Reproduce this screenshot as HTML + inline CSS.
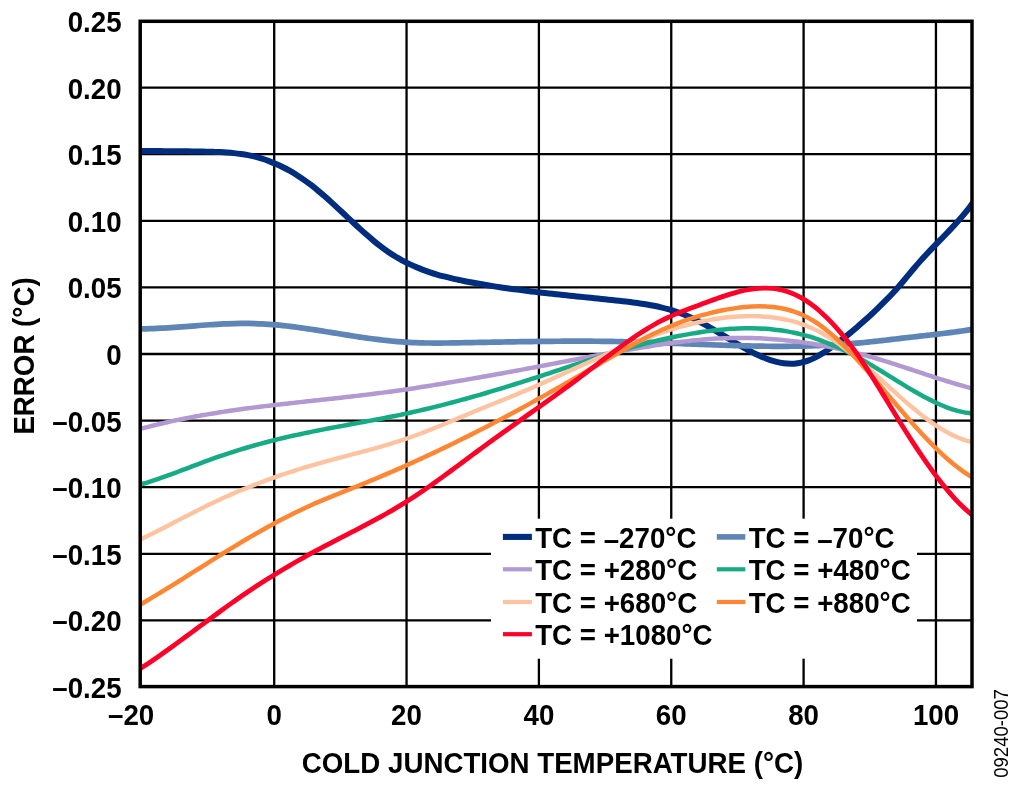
<!DOCTYPE html>
<html lang="en"><head><meta charset="utf-8"><title>Error vs Cold Junction Temperature</title>
<style>html,body{margin:0;padding:0;background:#fff;overflow:hidden}body{width:1024px;height:788px;position:relative}</style></head>
<body>
<svg width="1024" height="788" viewBox="0 0 1024 788" style="position:absolute;left:0;top:0;display:block">
<rect width="1024" height="788" fill="#fff"/>
<path d="M274.20,21.3V686.6M406.55,21.3V686.6M538.90,21.3V686.6M671.25,21.3V686.6M803.60,21.3V686.6M935.95,21.3V686.6M140.2,87.60H972.0M140.2,154.20H972.0M140.2,220.80H972.0M140.2,287.40H972.0M140.2,354.00H972.0M140.2,420.60H972.0M140.2,487.20H972.0M140.2,553.80H972.0M140.2,620.40H972.0" stroke="#000" stroke-width="2.3" fill="none"/>
<clipPath id="cp"><rect x="140.2" y="21.3" width="831.8" height="665.3000000000001"/></clipPath>
<g clip-path="url(#cp)" fill="none" stroke-linejoin="round">
<path d="M136.00,150.83C137.17,150.85 140.67,150.91 143.00,150.94C145.33,150.97 147.67,151.00 150.00,151.02C152.33,151.05 154.67,151.07 157.00,151.09C159.33,151.11 161.67,151.12 164.00,151.14C166.33,151.16 168.67,151.17 171.00,151.19C173.33,151.21 175.67,151.23 178.00,151.25C180.33,151.27 182.67,151.29 185.00,151.32C187.33,151.34 189.67,151.37 192.00,151.40C194.33,151.43 196.67,151.48 199.00,151.52C201.33,151.56 203.67,151.60 206.00,151.66C208.33,151.72 210.67,151.78 213.00,151.86C215.33,151.94 217.67,152.01 220.00,152.12C222.33,152.23 224.67,152.35 227.00,152.52C229.33,152.69 231.67,152.88 234.00,153.12C236.33,153.36 238.67,153.64 241.00,153.98C243.33,154.32 245.67,154.69 248.00,155.15C250.33,155.61 252.67,156.12 255.00,156.71C257.33,157.30 259.67,157.95 262.00,158.68C264.33,159.41 266.67,160.22 269.00,161.09C271.33,161.97 273.67,162.91 276.00,163.93C278.33,164.95 280.67,166.05 283.00,167.22C285.33,168.39 287.67,169.64 290.00,170.96C292.33,172.28 294.67,173.68 297.00,175.16C299.33,176.64 301.67,178.20 304.00,179.84C306.33,181.48 308.67,183.19 311.00,184.99C313.33,186.79 315.67,188.68 318.00,190.61C320.33,192.55 322.67,194.56 325.00,196.60C327.33,198.64 329.67,200.75 332.00,202.87C334.33,204.99 336.67,207.16 339.00,209.33C341.33,211.50 343.67,213.70 346.00,215.88C348.33,218.06 350.67,220.26 353.00,222.42C355.33,224.58 357.67,226.75 360.00,228.86C362.33,230.98 364.67,233.08 367.00,235.11C369.33,237.14 371.67,239.14 374.00,241.06C376.33,242.98 378.67,244.84 381.00,246.62C383.33,248.40 385.67,250.10 388.00,251.71C390.33,253.32 392.67,254.83 395.00,256.26C397.33,257.69 399.67,259.04 402.00,260.31C404.33,261.58 406.67,262.77 409.00,263.90C411.33,265.03 413.67,266.08 416.00,267.08C418.33,268.08 420.67,269.01 423.00,269.89C425.33,270.77 427.67,271.59 430.00,272.36C432.33,273.13 434.67,273.86 437.00,274.54C439.33,275.23 441.67,275.86 444.00,276.47C446.33,277.08 448.67,277.65 451.00,278.20C453.33,278.75 455.67,279.25 458.00,279.75C460.33,280.25 462.67,280.73 465.00,281.19C467.33,281.65 469.67,282.09 472.00,282.53C474.33,282.96 476.67,283.39 479.00,283.80C481.33,284.21 483.67,284.61 486.00,285.00C488.33,285.39 490.67,285.77 493.00,286.14C495.33,286.51 497.67,286.87 500.00,287.22C502.33,287.57 504.67,287.91 507.00,288.24C509.33,288.57 511.67,288.89 514.00,289.21C516.33,289.52 518.67,289.83 521.00,290.13C523.33,290.43 525.67,290.73 528.00,291.02C530.33,291.31 532.67,291.58 535.00,291.86C537.33,292.14 539.67,292.41 542.00,292.68C544.33,292.95 546.67,293.20 549.00,293.46C551.33,293.72 553.67,293.97 556.00,294.22C558.33,294.47 560.67,294.72 563.00,294.97C565.33,295.22 567.67,295.46 570.00,295.70C572.33,295.94 574.67,296.18 577.00,296.42C579.33,296.66 581.67,296.90 584.00,297.14C586.33,297.38 588.67,297.61 591.00,297.85C593.33,298.09 595.67,298.34 598.00,298.58C600.33,298.82 602.67,299.06 605.00,299.31C607.33,299.56 609.67,299.80 612.00,300.05C614.33,300.30 616.67,300.55 619.00,300.81C621.33,301.07 623.67,301.33 626.00,301.60C628.33,301.87 630.67,302.15 633.00,302.45C635.33,302.75 637.67,303.07 640.00,303.41C642.33,303.75 644.67,304.11 647.00,304.51C649.33,304.91 651.67,305.33 654.00,305.80C656.33,306.27 658.67,306.77 661.00,307.33C663.33,307.88 665.67,308.48 668.00,309.13C670.33,309.78 672.67,310.48 675.00,311.25C677.33,312.02 679.67,312.84 682.00,313.74C684.33,314.64 686.67,315.60 689.00,316.63C691.33,317.66 693.67,318.78 696.00,319.95C698.33,321.12 700.67,322.35 703.00,323.62C705.33,324.89 707.67,326.21 710.00,327.55C712.33,328.89 714.67,330.29 717.00,331.68C719.33,333.07 721.67,334.49 724.00,335.90C726.33,337.31 728.67,338.73 731.00,340.13C733.33,341.53 735.67,342.94 738.00,344.30C740.33,345.66 742.67,347.00 745.00,348.30C747.33,349.60 749.67,350.87 752.00,352.07C754.33,353.27 756.67,354.43 759.00,355.50C761.33,356.57 763.67,357.58 766.00,358.48C768.33,359.38 770.67,360.21 773.00,360.90C775.33,361.59 777.67,362.19 780.00,362.64C782.33,363.09 784.67,363.43 787.00,363.60C789.33,363.77 791.67,363.80 794.00,363.65C796.33,363.50 798.67,363.19 801.00,362.69C803.33,362.19 805.67,361.49 808.00,360.64C810.33,359.79 812.67,358.74 815.00,357.58C817.33,356.42 819.67,355.10 822.00,353.69C824.33,352.28 826.67,350.74 829.00,349.14C831.33,347.54 833.67,345.83 836.00,344.09C838.33,342.35 840.67,340.54 843.00,338.71C845.33,336.88 847.67,335.00 850.00,333.08C852.33,331.16 854.67,329.19 857.00,327.19C859.33,325.19 861.67,323.15 864.00,321.07C866.33,318.99 868.67,316.86 871.00,314.70C873.33,312.54 875.67,310.34 878.00,308.09C880.33,305.84 882.67,303.57 885.00,301.22C887.33,298.87 889.67,296.48 892.00,293.97C894.33,291.47 896.67,288.86 899.00,286.19C901.33,283.52 903.67,280.71 906.00,277.93C908.33,275.15 910.67,272.29 913.00,269.53C915.33,266.77 917.67,264.02 920.00,261.38C922.33,258.74 924.67,256.20 927.00,253.70C929.33,251.20 931.67,248.79 934.00,246.37C936.33,243.95 938.67,241.59 941.00,239.19C943.33,236.79 945.67,234.41 948.00,231.96C950.33,229.51 952.67,227.06 955.00,224.50C957.33,221.94 959.67,219.34 962.00,216.60C964.33,213.86 966.67,211.05 969.00,208.07C971.33,205.09 974.83,200.29 976.00,198.73" stroke="#002d7d" stroke-width="6.0"/>
<path d="M136.00,328.95C137.17,328.94 140.67,328.92 143.00,328.88C145.33,328.84 147.67,328.78 150.00,328.70C152.33,328.62 154.67,328.52 157.00,328.41C159.33,328.30 161.67,328.17 164.00,328.03C166.33,327.89 168.67,327.74 171.00,327.59C173.33,327.44 175.67,327.27 178.00,327.10C180.33,326.93 182.67,326.75 185.00,326.58C187.33,326.40 189.67,326.23 192.00,326.05C194.33,325.87 196.67,325.69 199.00,325.52C201.33,325.35 203.67,325.17 206.00,325.01C208.33,324.85 210.67,324.69 213.00,324.54C215.33,324.39 217.67,324.25 220.00,324.12C222.33,324.00 224.67,323.89 227.00,323.79C229.33,323.69 231.67,323.60 234.00,323.54C236.33,323.48 238.67,323.43 241.00,323.41C243.33,323.39 245.67,323.38 248.00,323.40C250.33,323.42 252.67,323.47 255.00,323.54C257.33,323.61 259.67,323.71 262.00,323.84C264.33,323.96 266.67,324.12 269.00,324.29C271.33,324.46 273.67,324.66 276.00,324.87C278.33,325.08 280.67,325.32 283.00,325.57C285.33,325.82 287.67,326.09 290.00,326.37C292.33,326.65 294.67,326.96 297.00,327.27C299.33,327.58 301.67,327.91 304.00,328.24C306.33,328.57 308.67,328.93 311.00,329.28C313.33,329.63 315.67,329.99 318.00,330.36C320.33,330.73 322.67,331.11 325.00,331.48C327.33,331.86 329.67,332.23 332.00,332.61C334.33,332.99 336.67,333.37 339.00,333.75C341.33,334.13 343.67,334.51 346.00,334.88C348.33,335.25 350.67,335.63 353.00,335.99C355.33,336.35 357.67,336.71 360.00,337.06C362.33,337.41 364.67,337.75 367.00,338.08C369.33,338.41 371.67,338.72 374.00,339.03C376.33,339.33 378.67,339.63 381.00,339.91C383.33,340.19 385.67,340.45 388.00,340.70C390.33,340.94 392.67,341.17 395.00,341.38C397.33,341.59 399.67,341.78 402.00,341.95C404.33,342.12 406.67,342.27 409.00,342.40C411.33,342.53 413.67,342.62 416.00,342.71C418.33,342.80 420.67,342.87 423.00,342.92C425.33,342.97 427.67,343.00 430.00,343.02C432.33,343.04 434.67,343.05 437.00,343.05C439.33,343.05 441.67,343.04 444.00,343.02C446.33,343.00 448.67,342.97 451.00,342.94C453.33,342.91 455.67,342.87 458.00,342.83C460.33,342.79 462.67,342.74 465.00,342.70C467.33,342.66 469.67,342.62 472.00,342.58C474.33,342.54 476.67,342.50 479.00,342.45C481.33,342.40 483.67,342.36 486.00,342.31C488.33,342.26 490.67,342.22 493.00,342.18C495.33,342.14 497.67,342.09 500.00,342.05C502.33,342.01 504.67,341.97 507.00,341.93C509.33,341.89 511.67,341.84 514.00,341.80C516.33,341.76 518.67,341.73 521.00,341.69C523.33,341.65 525.67,341.62 528.00,341.58C530.33,341.54 532.67,341.51 535.00,341.48C537.33,341.45 539.67,341.42 542.00,341.39C544.33,341.36 546.67,341.34 549.00,341.32C551.33,341.30 553.67,341.28 556.00,341.26C558.33,341.24 560.67,341.22 563.00,341.21C565.33,341.20 567.67,341.19 570.00,341.18C572.33,341.17 574.67,341.17 577.00,341.17C579.33,341.17 581.67,341.17 584.00,341.18C586.33,341.19 588.67,341.20 591.00,341.21C593.33,341.22 595.67,341.24 598.00,341.26C600.33,341.28 602.67,341.31 605.00,341.34C607.33,341.37 609.67,341.40 612.00,341.44C614.33,341.48 616.67,341.52 619.00,341.57C621.33,341.62 623.67,341.67 626.00,341.73C628.33,341.79 630.67,341.86 633.00,341.92C635.33,341.99 637.67,342.05 640.00,342.12C642.33,342.19 644.67,342.27 647.00,342.35C649.33,342.43 651.67,342.51 654.00,342.59C656.33,342.67 658.67,342.76 661.00,342.85C663.33,342.94 665.67,343.02 668.00,343.11C670.33,343.20 672.67,343.30 675.00,343.39C677.33,343.48 679.67,343.57 682.00,343.66C684.33,343.75 686.67,343.85 689.00,343.94C691.33,344.03 693.67,344.13 696.00,344.22C698.33,344.31 700.67,344.40 703.00,344.49C705.33,344.58 707.67,344.67 710.00,344.76C712.33,344.85 714.67,344.93 717.00,345.01C719.33,345.09 721.67,345.17 724.00,345.25C726.33,345.33 728.67,345.40 731.00,345.47C733.33,345.54 735.67,345.61 738.00,345.67C740.33,345.73 742.67,345.79 745.00,345.85C747.33,345.91 749.67,345.96 752.00,346.01C754.33,346.06 756.67,346.09 759.00,346.13C761.33,346.17 763.67,346.20 766.00,346.23C768.33,346.26 770.67,346.28 773.00,346.29C775.33,346.30 777.67,346.31 780.00,346.31C782.33,346.31 784.67,346.31 787.00,346.29C789.33,346.28 791.67,346.25 794.00,346.22C796.33,346.19 798.67,346.16 801.00,346.11C803.33,346.06 805.67,346.01 808.00,345.95C810.33,345.89 812.67,345.81 815.00,345.73C817.33,345.65 819.67,345.56 822.00,345.46C824.33,345.36 826.67,345.25 829.00,345.13C831.33,345.01 833.67,344.88 836.00,344.74C838.33,344.60 840.67,344.44 843.00,344.28C845.33,344.12 847.67,343.95 850.00,343.76C852.33,343.57 854.67,343.37 857.00,343.16C859.33,342.95 861.67,342.73 864.00,342.50C866.33,342.27 868.67,342.03 871.00,341.78C873.33,341.53 875.67,341.28 878.00,341.02C880.33,340.76 882.67,340.50 885.00,340.23C887.33,339.96 889.67,339.69 892.00,339.42C894.33,339.15 896.67,338.87 899.00,338.60C901.33,338.33 903.67,338.05 906.00,337.78C908.33,337.51 910.67,337.25 913.00,336.98C915.33,336.71 917.67,336.44 920.00,336.18C922.33,335.92 924.67,335.66 927.00,335.39C929.33,335.12 931.67,334.85 934.00,334.58C936.33,334.31 938.67,334.02 941.00,333.74C943.33,333.46 945.67,333.17 948.00,332.87C950.33,332.57 952.67,332.27 955.00,331.95C957.33,331.63 959.67,331.31 962.00,330.97C964.33,330.63 966.67,330.28 969.00,329.92C971.33,329.56 974.83,328.98 976.00,328.79" stroke="#5e85b5" stroke-width="5.7"/>
<path d="M136.00,430.09C137.17,429.77 140.67,428.80 143.00,428.18C145.33,427.56 147.67,426.95 150.00,426.36C152.33,425.77 154.67,425.19 157.00,424.63C159.33,424.07 161.67,423.52 164.00,422.98C166.33,422.44 168.67,421.92 171.00,421.41C173.33,420.90 175.67,420.40 178.00,419.91C180.33,419.42 182.67,418.95 185.00,418.49C187.33,418.03 189.67,417.58 192.00,417.14C194.33,416.70 196.67,416.26 199.00,415.84C201.33,415.42 203.67,415.01 206.00,414.61C208.33,414.21 210.67,413.82 213.00,413.44C215.33,413.06 217.67,412.69 220.00,412.32C222.33,411.95 224.67,411.60 227.00,411.25C229.33,410.90 231.67,410.56 234.00,410.23C236.33,409.90 238.67,409.56 241.00,409.24C243.33,408.92 245.67,408.61 248.00,408.30C250.33,407.99 252.67,407.69 255.00,407.39C257.33,407.09 259.67,406.81 262.00,406.52C264.33,406.23 266.67,405.95 269.00,405.67C271.33,405.39 273.67,405.11 276.00,404.84C278.33,404.57 280.67,404.31 283.00,404.04C285.33,403.78 287.67,403.51 290.00,403.25C292.33,402.99 294.67,402.74 297.00,402.48C299.33,402.22 301.67,401.96 304.00,401.71C306.33,401.45 308.67,401.20 311.00,400.95C313.33,400.70 315.67,400.44 318.00,400.19C320.33,399.94 322.67,399.68 325.00,399.43C327.33,399.18 329.67,398.93 332.00,398.67C334.33,398.42 336.67,398.16 339.00,397.90C341.33,397.64 343.67,397.38 346.00,397.11C348.33,396.85 350.67,396.58 353.00,396.31C355.33,396.04 357.67,395.76 360.00,395.48C362.33,395.20 364.67,394.93 367.00,394.64C369.33,394.35 371.67,394.06 374.00,393.77C376.33,393.47 378.67,393.17 381.00,392.87C383.33,392.57 385.67,392.26 388.00,391.95C390.33,391.64 392.67,391.31 395.00,390.99C397.33,390.67 399.67,390.33 402.00,390.00C404.33,389.67 406.67,389.33 409.00,388.98C411.33,388.63 413.67,388.28 416.00,387.92C418.33,387.56 420.67,387.20 423.00,386.83C425.33,386.46 427.67,386.09 430.00,385.71C432.33,385.33 434.67,384.95 437.00,384.57C439.33,384.19 441.67,383.80 444.00,383.41C446.33,383.02 448.67,382.63 451.00,382.24C453.33,381.85 455.67,381.45 458.00,381.05C460.33,380.65 462.67,380.25 465.00,379.85C467.33,379.45 469.67,379.04 472.00,378.64C474.33,378.24 476.67,377.83 479.00,377.42C481.33,377.01 483.67,376.59 486.00,376.18C488.33,375.77 490.67,375.36 493.00,374.94C495.33,374.52 497.67,374.10 500.00,373.68C502.33,373.26 504.67,372.84 507.00,372.41C509.33,371.99 511.67,371.56 514.00,371.13C516.33,370.70 518.67,370.27 521.00,369.84C523.33,369.41 525.67,368.98 528.00,368.54C530.33,368.10 532.67,367.66 535.00,367.22C537.33,366.78 539.67,366.34 542.00,365.90C544.33,365.46 546.67,365.01 549.00,364.57C551.33,364.12 553.67,363.68 556.00,363.23C558.33,362.78 560.67,362.34 563.00,361.89C565.33,361.44 567.67,360.99 570.00,360.54C572.33,360.09 574.67,359.64 577.00,359.20C579.33,358.75 581.67,358.31 584.00,357.87C586.33,357.43 588.67,356.98 591.00,356.54C593.33,356.10 595.67,355.66 598.00,355.23C600.33,354.80 602.67,354.37 605.00,353.94C607.33,353.51 609.67,353.08 612.00,352.66C614.33,352.24 616.67,351.81 619.00,351.40C621.33,350.98 623.67,350.57 626.00,350.17C628.33,349.77 630.67,349.37 633.00,348.97C635.33,348.58 637.67,348.18 640.00,347.80C642.33,347.42 644.67,347.04 647.00,346.67C649.33,346.30 651.67,345.93 654.00,345.57C656.33,345.21 658.67,344.86 661.00,344.52C663.33,344.18 665.67,343.84 668.00,343.52C670.33,343.20 672.67,342.88 675.00,342.58C677.33,342.28 679.67,341.99 682.00,341.71C684.33,341.43 686.67,341.16 689.00,340.91C691.33,340.66 693.67,340.42 696.00,340.19C698.33,339.96 700.67,339.75 703.00,339.55C705.33,339.36 707.67,339.18 710.00,339.02C712.33,338.86 714.67,338.71 717.00,338.59C719.33,338.46 721.67,338.36 724.00,338.27C726.33,338.18 728.67,338.11 731.00,338.06C733.33,338.01 735.67,337.97 738.00,337.96C740.33,337.95 742.67,337.96 745.00,337.98C747.33,338.00 749.67,338.05 752.00,338.11C754.33,338.17 756.67,338.25 759.00,338.35C761.33,338.45 763.67,338.56 766.00,338.70C768.33,338.84 770.67,339.00 773.00,339.17C775.33,339.34 777.67,339.53 780.00,339.74C782.33,339.95 784.67,340.18 787.00,340.42C789.33,340.67 791.67,340.93 794.00,341.21C796.33,341.49 798.67,341.79 801.00,342.11C803.33,342.43 805.67,342.76 808.00,343.11C810.33,343.46 812.67,343.83 815.00,344.22C817.33,344.61 819.67,345.01 822.00,345.44C824.33,345.87 826.67,346.31 829.00,346.77C831.33,347.23 833.67,347.70 836.00,348.20C838.33,348.69 840.67,349.21 843.00,349.74C845.33,350.27 847.67,350.82 850.00,351.38C852.33,351.94 854.67,352.52 857.00,353.12C859.33,353.72 861.67,354.34 864.00,354.97C866.33,355.60 868.67,356.25 871.00,356.92C873.33,357.59 875.67,358.27 878.00,358.97C880.33,359.67 882.67,360.38 885.00,361.10C887.33,361.82 889.67,362.56 892.00,363.30C894.33,364.04 896.67,364.80 899.00,365.56C901.33,366.32 903.67,367.08 906.00,367.85C908.33,368.62 910.67,369.39 913.00,370.16C915.33,370.93 917.67,371.71 920.00,372.48C922.33,373.25 924.67,374.01 927.00,374.78C929.33,375.54 931.67,376.31 934.00,377.07C936.33,377.82 938.67,378.57 941.00,379.31C943.33,380.05 945.67,380.77 948.00,381.49C950.33,382.21 952.67,382.92 955.00,383.61C957.33,384.30 959.67,384.98 962.00,385.64C964.33,386.30 966.67,386.94 969.00,387.56C971.33,388.18 974.83,389.07 976.00,389.37" stroke="#b299d2" stroke-width="4.5"/>
<path d="M136.00,485.76C137.17,485.43 140.67,484.46 143.00,483.77C145.33,483.08 147.67,482.35 150.00,481.60C152.33,480.85 154.67,480.08 157.00,479.29C159.33,478.50 161.67,477.69 164.00,476.86C166.33,476.04 168.67,475.19 171.00,474.34C173.33,473.49 175.67,472.61 178.00,471.74C180.33,470.87 182.67,469.99 185.00,469.11C187.33,468.23 189.67,467.33 192.00,466.45C194.33,465.57 196.67,464.69 199.00,463.81C201.33,462.94 203.67,462.06 206.00,461.20C208.33,460.34 210.67,459.49 213.00,458.65C215.33,457.81 217.67,456.99 220.00,456.18C222.33,455.37 224.67,454.58 227.00,453.81C229.33,453.04 231.67,452.29 234.00,451.55C236.33,450.81 238.67,450.08 241.00,449.37C243.33,448.66 245.67,447.96 248.00,447.28C250.33,446.60 252.67,445.93 255.00,445.28C257.33,444.63 259.67,444.00 262.00,443.37C264.33,442.74 266.67,442.12 269.00,441.52C271.33,440.92 273.67,440.34 276.00,439.76C278.33,439.18 280.67,438.62 283.00,438.06C285.33,437.50 287.67,436.96 290.00,436.43C292.33,435.90 294.67,435.38 297.00,434.87C299.33,434.36 301.67,433.86 304.00,433.36C306.33,432.87 308.67,432.38 311.00,431.90C313.33,431.42 315.67,430.96 318.00,430.50C320.33,430.04 322.67,429.58 325.00,429.13C327.33,428.68 329.67,428.24 332.00,427.80C334.33,427.36 336.67,426.93 339.00,426.49C341.33,426.06 343.67,425.62 346.00,425.19C348.33,424.76 350.67,424.34 353.00,423.91C355.33,423.48 357.67,423.05 360.00,422.62C362.33,422.19 364.67,421.76 367.00,421.33C369.33,420.90 371.67,420.46 374.00,420.02C376.33,419.58 378.67,419.14 381.00,418.69C383.33,418.24 385.67,417.79 388.00,417.33C390.33,416.87 392.67,416.40 395.00,415.93C397.33,415.46 399.67,414.97 402.00,414.48C404.33,413.99 406.67,413.48 409.00,412.97C411.33,412.46 413.67,411.94 416.00,411.41C418.33,410.88 420.67,410.34 423.00,409.79C425.33,409.24 427.67,408.69 430.00,408.12C432.33,407.55 434.67,406.97 437.00,406.39C439.33,405.81 441.67,405.21 444.00,404.61C446.33,404.01 448.67,403.41 451.00,402.79C453.33,402.18 455.67,401.55 458.00,400.92C460.33,400.29 462.67,399.65 465.00,399.00C467.33,398.35 469.67,397.70 472.00,397.04C474.33,396.38 476.67,395.71 479.00,395.04C481.33,394.37 483.67,393.69 486.00,393.00C488.33,392.31 490.67,391.63 493.00,390.93C495.33,390.23 497.67,389.53 500.00,388.82C502.33,388.11 504.67,387.40 507.00,386.68C509.33,385.96 511.67,385.24 514.00,384.51C516.33,383.78 518.67,383.05 521.00,382.31C523.33,381.57 525.67,380.82 528.00,380.08C530.33,379.33 532.67,378.59 535.00,377.84C537.33,377.09 539.67,376.33 542.00,375.57C544.33,374.81 546.67,374.04 549.00,373.28C551.33,372.51 553.67,371.75 556.00,370.98C558.33,370.21 560.67,369.45 563.00,368.68C565.33,367.91 567.67,367.14 570.00,366.38C572.33,365.62 574.67,364.85 577.00,364.09C579.33,363.33 581.67,362.57 584.00,361.82C586.33,361.06 588.67,360.31 591.00,359.56C593.33,358.81 595.67,358.07 598.00,357.34C600.33,356.61 602.67,355.88 605.00,355.16C607.33,354.44 609.67,353.72 612.00,353.01C614.33,352.30 616.67,351.61 619.00,350.92C621.33,350.23 623.67,349.55 626.00,348.88C628.33,348.21 630.67,347.56 633.00,346.91C635.33,346.27 637.67,345.63 640.00,345.01C642.33,344.39 644.67,343.77 647.00,343.18C649.33,342.59 651.67,342.00 654.00,341.44C656.33,340.88 658.67,340.33 661.00,339.79C663.33,339.25 665.67,338.73 668.00,338.22C670.33,337.71 672.67,337.23 675.00,336.75C677.33,336.27 679.67,335.81 682.00,335.37C684.33,334.93 686.67,334.50 689.00,334.09C691.33,333.68 693.67,333.29 696.00,332.91C698.33,332.54 700.67,332.18 703.00,331.84C705.33,331.50 707.67,331.19 710.00,330.89C712.33,330.59 714.67,330.32 717.00,330.07C719.33,329.82 721.67,329.59 724.00,329.39C726.33,329.19 728.67,329.01 731.00,328.86C733.33,328.71 735.67,328.59 738.00,328.50C740.33,328.41 742.67,328.34 745.00,328.30C747.33,328.26 749.67,328.26 752.00,328.29C754.33,328.32 756.67,328.38 759.00,328.47C761.33,328.57 763.67,328.69 766.00,328.86C768.33,329.03 770.67,329.23 773.00,329.47C775.33,329.71 777.67,329.99 780.00,330.31C782.33,330.63 784.67,330.99 787.00,331.39C789.33,331.79 791.67,332.24 794.00,332.73C796.33,333.22 798.67,333.74 801.00,334.32C803.33,334.90 805.67,335.52 808.00,336.20C810.33,336.88 812.67,337.60 815.00,338.37C817.33,339.14 819.67,339.95 822.00,340.82C824.33,341.69 826.67,342.60 829.00,343.56C831.33,344.52 833.67,345.52 836.00,346.56C838.33,347.60 840.67,348.68 843.00,349.80C845.33,350.92 847.67,352.08 850.00,353.27C852.33,354.46 854.67,355.69 857.00,356.95C859.33,358.21 861.67,359.51 864.00,360.83C866.33,362.15 868.67,363.51 871.00,364.88C873.33,366.25 875.67,367.65 878.00,369.07C880.33,370.49 882.67,371.93 885.00,373.37C887.33,374.81 889.67,376.26 892.00,377.71C894.33,379.15 896.67,380.61 899.00,382.04C901.33,383.48 903.67,384.91 906.00,386.32C908.33,387.73 910.67,389.13 913.00,390.49C915.33,391.85 917.67,393.20 920.00,394.50C922.33,395.80 924.67,397.07 927.00,398.29C929.33,399.51 931.67,400.70 934.00,401.82C936.33,402.94 938.67,404.02 941.00,405.02C943.33,406.02 945.67,406.96 948.00,407.81C950.33,408.66 952.67,409.44 955.00,410.12C957.33,410.80 959.67,411.41 962.00,411.90C964.33,412.39 966.67,412.78 969.00,413.05C971.33,413.32 974.83,413.44 976.00,413.52" stroke="#16ab84" stroke-width="4.5"/>
<path d="M136.00,541.41C137.17,540.87 140.67,539.25 143.00,538.14C145.33,537.03 147.67,535.89 150.00,534.74C152.33,533.59 154.67,532.42 157.00,531.24C159.33,530.06 161.67,528.87 164.00,527.67C166.33,526.47 168.67,525.26 171.00,524.05C173.33,522.84 175.67,521.62 178.00,520.41C180.33,519.20 182.67,517.99 185.00,516.78C187.33,515.57 189.67,514.36 192.00,513.17C194.33,511.98 196.67,510.79 199.00,509.62C201.33,508.45 203.67,507.29 206.00,506.15C208.33,505.01 210.67,503.89 213.00,502.78C215.33,501.67 217.67,500.58 220.00,499.51C222.33,498.44 224.67,497.39 227.00,496.35C229.33,495.31 231.67,494.29 234.00,493.28C236.33,492.27 238.67,491.28 241.00,490.31C243.33,489.34 245.67,488.38 248.00,487.44C250.33,486.50 252.67,485.57 255.00,484.66C257.33,483.75 259.67,482.85 262.00,481.97C264.33,481.09 266.67,480.23 269.00,479.38C271.33,478.53 273.67,477.69 276.00,476.87C278.33,476.05 280.67,475.24 283.00,474.45C285.33,473.66 287.67,472.88 290.00,472.12C292.33,471.36 294.67,470.61 297.00,469.87C299.33,469.13 301.67,468.42 304.00,467.71C306.33,467.00 308.67,466.30 311.00,465.62C313.33,464.94 315.67,464.28 318.00,463.62C320.33,462.96 322.67,462.32 325.00,461.68C327.33,461.04 329.67,460.40 332.00,459.78C334.33,459.15 336.67,458.55 339.00,457.93C341.33,457.31 343.67,456.69 346.00,456.08C348.33,455.46 350.67,454.86 353.00,454.24C355.33,453.62 357.67,453.01 360.00,452.39C362.33,451.77 364.67,451.14 367.00,450.51C369.33,449.88 371.67,449.23 374.00,448.58C376.33,447.93 378.67,447.27 381.00,446.59C383.33,445.91 385.67,445.22 388.00,444.52C390.33,443.81 392.67,443.10 395.00,442.36C397.33,441.62 399.67,440.88 402.00,440.10C404.33,439.33 406.67,438.53 409.00,437.71C411.33,436.89 413.67,436.05 416.00,435.19C418.33,434.33 420.67,433.46 423.00,432.57C425.33,431.68 427.67,430.77 430.00,429.85C432.33,428.93 434.67,427.99 437.00,427.05C439.33,426.11 441.67,425.15 444.00,424.19C446.33,423.23 448.67,422.26 451.00,421.29C453.33,420.32 455.67,419.35 458.00,418.37C460.33,417.39 462.67,416.41 465.00,415.43C467.33,414.45 469.67,413.47 472.00,412.50C474.33,411.53 476.67,410.56 479.00,409.60C481.33,408.64 483.67,407.69 486.00,406.74C488.33,405.80 490.67,404.86 493.00,403.93C495.33,403.00 497.67,402.07 500.00,401.14C502.33,400.21 504.67,399.28 507.00,398.33C509.33,397.38 511.67,396.43 514.00,395.46C516.33,394.49 518.67,393.51 521.00,392.52C523.33,391.53 525.67,390.53 528.00,389.52C530.33,388.51 532.67,387.50 535.00,386.47C537.33,385.45 539.67,384.41 542.00,383.37C544.33,382.33 546.67,381.28 549.00,380.23C551.33,379.18 553.67,378.13 556.00,377.07C558.33,376.01 560.67,374.95 563.00,373.89C565.33,372.83 567.67,371.76 570.00,370.70C572.33,369.64 574.67,368.58 577.00,367.52C579.33,366.46 581.67,365.39 584.00,364.34C586.33,363.28 588.67,362.24 591.00,361.19C593.33,360.14 595.67,359.11 598.00,358.07C600.33,357.03 602.67,356.00 605.00,354.98C607.33,353.96 609.67,352.95 612.00,351.95C614.33,350.95 616.67,349.95 619.00,348.97C621.33,347.99 623.67,347.02 626.00,346.07C628.33,345.12 630.67,344.17 633.00,343.24C635.33,342.31 637.67,341.39 640.00,340.49C642.33,339.59 644.67,338.71 647.00,337.85C649.33,336.99 651.67,336.14 654.00,335.31C656.33,334.48 658.67,333.67 661.00,332.88C663.33,332.09 665.67,331.32 668.00,330.58C670.33,329.83 672.67,329.11 675.00,328.41C677.33,327.71 679.67,327.04 682.00,326.39C684.33,325.74 686.67,325.12 689.00,324.52C691.33,323.92 693.67,323.35 696.00,322.81C698.33,322.27 700.67,321.75 703.00,321.27C705.33,320.79 707.67,320.34 710.00,319.92C712.33,319.50 714.67,319.11 717.00,318.75C719.33,318.39 721.67,318.08 724.00,317.79C726.33,317.50 728.67,317.25 731.00,317.03C733.33,316.81 735.67,316.64 738.00,316.50C740.33,316.36 742.67,316.25 745.00,316.19C747.33,316.13 749.67,316.10 752.00,316.12C754.33,316.14 756.67,316.20 759.00,316.30C761.33,316.40 763.67,316.55 766.00,316.74C768.33,316.93 770.67,317.16 773.00,317.46C775.33,317.75 777.67,318.10 780.00,318.51C782.33,318.92 784.67,319.38 787.00,319.91C789.33,320.44 791.67,321.02 794.00,321.68C796.33,322.34 798.67,323.07 801.00,323.88C803.33,324.69 805.67,325.55 808.00,326.51C810.33,327.47 812.67,328.51 815.00,329.63C817.33,330.75 819.67,331.95 822.00,333.25C824.33,334.55 826.67,335.93 829.00,337.40C831.33,338.87 833.67,340.44 836.00,342.06C838.33,343.69 840.67,345.39 843.00,347.15C845.33,348.91 847.67,350.74 850.00,352.61C852.33,354.48 854.67,356.42 857.00,358.38C859.33,360.34 861.67,362.37 864.00,364.40C866.33,366.43 868.67,368.51 871.00,370.59C873.33,372.67 875.67,374.79 878.00,376.90C880.33,379.01 882.67,381.15 885.00,383.27C887.33,385.39 889.67,387.51 892.00,389.62C894.33,391.73 896.67,393.84 899.00,395.91C901.33,397.98 903.67,400.04 906.00,402.06C908.33,404.08 910.67,406.07 913.00,408.01C915.33,409.95 917.67,411.87 920.00,413.72C922.33,415.57 924.67,417.38 927.00,419.11C929.33,420.84 931.67,422.52 934.00,424.12C936.33,425.72 938.67,427.25 941.00,428.69C943.33,430.13 945.67,431.50 948.00,432.77C950.33,434.03 952.67,435.21 955.00,436.28C957.33,437.35 959.67,438.33 962.00,439.18C964.33,440.03 966.67,440.78 969.00,441.39C971.33,442.00 974.83,442.61 976.00,442.85" stroke="#fec4a2" stroke-width="4.4"/>
<path d="M136.00,606.94C137.17,606.27 140.67,604.28 143.00,602.93C145.33,601.58 147.67,600.21 150.00,598.83C152.33,597.45 154.67,596.06 157.00,594.65C159.33,593.24 161.67,591.82 164.00,590.39C166.33,588.96 168.67,587.52 171.00,586.08C173.33,584.64 175.67,583.19 178.00,581.73C180.33,580.27 182.67,578.81 185.00,577.34C187.33,575.87 189.67,574.39 192.00,572.92C194.33,571.45 196.67,569.97 199.00,568.50C201.33,567.03 203.67,565.55 206.00,564.08C208.33,562.61 210.67,561.14 213.00,559.68C215.33,558.22 217.67,556.75 220.00,555.30C222.33,553.85 224.67,552.39 227.00,550.95C229.33,549.51 231.67,548.08 234.00,546.66C236.33,545.24 238.67,543.83 241.00,542.43C243.33,541.03 245.67,539.64 248.00,538.27C250.33,536.90 252.67,535.54 255.00,534.19C257.33,532.85 259.67,531.52 262.00,530.20C264.33,528.88 266.67,527.58 269.00,526.30C271.33,525.02 273.67,523.75 276.00,522.50C278.33,521.25 280.67,520.02 283.00,518.81C285.33,517.60 287.67,516.40 290.00,515.23C292.33,514.06 294.67,512.89 297.00,511.76C299.33,510.63 301.67,509.52 304.00,508.43C306.33,507.34 308.67,506.27 311.00,505.22C313.33,504.17 315.67,503.15 318.00,502.15C320.33,501.14 322.67,500.16 325.00,499.19C327.33,498.22 329.67,497.26 332.00,496.31C334.33,495.36 336.67,494.43 339.00,493.49C341.33,492.56 343.67,491.63 346.00,490.70C348.33,489.77 350.67,488.83 353.00,487.90C355.33,486.96 357.67,486.03 360.00,485.09C362.33,484.14 364.67,483.19 367.00,482.23C369.33,481.27 371.67,480.30 374.00,479.32C376.33,478.34 378.67,477.36 381.00,476.37C383.33,475.38 385.67,474.38 388.00,473.38C390.33,472.38 392.67,471.37 395.00,470.35C397.33,469.33 399.67,468.31 402.00,467.27C404.33,466.23 406.67,465.19 409.00,464.14C411.33,463.09 413.67,462.04 416.00,460.98C418.33,459.92 420.67,458.85 423.00,457.77C425.33,456.69 427.67,455.61 430.00,454.52C432.33,453.43 434.67,452.33 437.00,451.22C439.33,450.11 441.67,449.00 444.00,447.88C446.33,446.76 448.67,445.64 451.00,444.51C453.33,443.38 455.67,442.23 458.00,441.08C460.33,439.93 462.67,438.78 465.00,437.62C467.33,436.46 469.67,435.30 472.00,434.12C474.33,432.94 476.67,431.76 479.00,430.57C481.33,429.38 483.67,428.19 486.00,426.99C488.33,425.79 490.67,424.58 493.00,423.36C495.33,422.14 497.67,420.92 500.00,419.69C502.33,418.46 504.67,417.22 507.00,415.98C509.33,414.74 511.67,413.50 514.00,412.24C516.33,410.99 518.67,409.72 521.00,408.45C523.33,407.18 525.67,405.90 528.00,404.62C530.33,403.34 532.67,402.05 535.00,400.75C537.33,399.45 539.67,398.15 542.00,396.84C544.33,395.53 546.67,394.22 549.00,392.90C551.33,391.58 553.67,390.25 556.00,388.92C558.33,387.59 560.67,386.26 563.00,384.92C565.33,383.58 567.67,382.25 570.00,380.90C572.33,379.55 574.67,378.20 577.00,376.85C579.33,375.50 581.67,374.15 584.00,372.80C586.33,371.45 588.67,370.09 591.00,368.74C593.33,367.39 595.67,366.03 598.00,364.68C600.33,363.33 602.67,361.97 605.00,360.62C607.33,359.27 609.67,357.93 612.00,356.58C614.33,355.23 616.67,353.88 619.00,352.54C621.33,351.20 623.67,349.85 626.00,348.53C628.33,347.20 630.67,345.88 633.00,344.59C635.33,343.29 637.67,342.01 640.00,340.76C642.33,339.51 644.67,338.27 647.00,337.08C649.33,335.88 651.67,334.72 654.00,333.59C656.33,332.46 658.67,331.36 661.00,330.30C663.33,329.24 665.67,328.21 668.00,327.22C670.33,326.23 672.67,325.27 675.00,324.35C677.33,323.43 679.67,322.53 682.00,321.68C684.33,320.83 686.67,320.01 689.00,319.23C691.33,318.45 693.67,317.70 696.00,316.98C698.33,316.26 700.67,315.58 703.00,314.94C705.33,314.30 707.67,313.69 710.00,313.11C712.33,312.53 714.67,311.99 717.00,311.48C719.33,310.97 721.67,310.51 724.00,310.07C726.33,309.63 728.67,309.23 731.00,308.86C733.33,308.49 735.67,308.17 738.00,307.87C740.33,307.57 742.67,307.31 745.00,307.09C747.33,306.87 749.67,306.69 752.00,306.56C754.33,306.43 756.67,306.35 759.00,306.33C761.33,306.31 763.67,306.35 766.00,306.46C768.33,306.57 770.67,306.74 773.00,307.00C775.33,307.26 777.67,307.58 780.00,308.00C782.33,308.42 784.67,308.92 787.00,309.52C789.33,310.12 791.67,310.80 794.00,311.60C796.33,312.40 798.67,313.29 801.00,314.30C803.33,315.31 805.67,316.43 808.00,317.67C810.33,318.91 812.67,320.27 815.00,321.76C817.33,323.25 819.67,324.88 822.00,326.60C824.33,328.33 826.67,330.17 829.00,332.11C831.33,334.05 833.67,336.10 836.00,338.23C838.33,340.36 840.67,342.59 843.00,344.88C845.33,347.17 847.67,349.54 850.00,351.96C852.33,354.38 854.67,356.88 857.00,359.42C859.33,361.96 861.67,364.55 864.00,367.17C866.33,369.79 868.67,372.46 871.00,375.14C873.33,377.82 875.67,380.53 878.00,383.25C880.33,385.97 882.67,388.70 885.00,391.44C887.33,394.18 889.67,396.93 892.00,399.66C894.33,402.39 896.67,405.13 899.00,407.84C901.33,410.55 903.67,413.26 906.00,415.94C908.33,418.62 910.67,421.28 913.00,423.90C915.33,426.52 917.67,429.11 920.00,431.65C922.33,434.19 924.67,436.70 927.00,439.14C929.33,441.58 931.67,443.98 934.00,446.31C936.33,448.64 938.67,450.92 941.00,453.11C943.33,455.30 945.67,457.43 948.00,459.47C950.33,461.51 952.67,463.47 955.00,465.34C957.33,467.21 959.67,469.00 962.00,470.67C964.33,472.35 966.67,473.93 969.00,475.39C971.33,476.85 974.83,478.77 976.00,479.45" stroke="#ff8733" stroke-width="4.5"/>
<path d="M136.00,671.34C137.17,670.59 140.67,668.37 143.00,666.84C145.33,665.32 147.67,663.76 150.00,662.19C152.33,660.62 154.67,659.02 157.00,657.40C159.33,655.78 161.67,654.14 164.00,652.49C166.33,650.84 168.67,649.18 171.00,647.50C173.33,645.82 175.67,644.12 178.00,642.42C180.33,640.72 182.67,639.00 185.00,637.29C187.33,635.57 189.67,633.86 192.00,632.13C194.33,630.40 196.67,628.67 199.00,626.94C201.33,625.21 203.67,623.48 206.00,621.75C208.33,620.02 210.67,618.31 213.00,616.59C215.33,614.88 217.67,613.16 220.00,611.46C222.33,609.76 224.67,608.07 227.00,606.39C229.33,604.71 231.67,603.05 234.00,601.40C236.33,599.75 238.67,598.11 241.00,596.50C243.33,594.89 245.67,593.29 248.00,591.72C250.33,590.15 252.67,588.60 255.00,587.06C257.33,585.52 259.67,584.00 262.00,582.50C264.33,581.00 266.67,579.52 269.00,578.06C271.33,576.60 273.67,575.15 276.00,573.72C278.33,572.29 280.67,570.88 283.00,569.48C285.33,568.08 287.67,566.71 290.00,565.34C292.33,563.98 294.67,562.62 297.00,561.29C299.33,559.95 301.67,558.63 304.00,557.33C306.33,556.03 308.67,554.74 311.00,553.46C313.33,552.18 315.67,550.92 318.00,549.67C320.33,548.42 322.67,547.18 325.00,545.95C327.33,544.72 329.67,543.50 332.00,542.29C334.33,541.08 336.67,539.88 339.00,538.68C341.33,537.48 343.67,536.28 346.00,535.08C348.33,533.88 350.67,532.68 353.00,531.47C355.33,530.26 357.67,529.07 360.00,527.85C362.33,526.63 364.67,525.41 367.00,524.17C369.33,522.93 371.67,521.69 374.00,520.43C376.33,519.17 378.67,517.90 381.00,516.61C383.33,515.32 385.67,514.00 388.00,512.67C390.33,511.34 392.67,509.99 395.00,508.61C397.33,507.23 399.67,505.83 402.00,504.40C404.33,502.97 406.67,501.50 409.00,500.01C411.33,498.52 413.67,497.00 416.00,495.45C418.33,493.90 420.67,492.33 423.00,490.74C425.33,489.15 427.67,487.53 430.00,485.89C432.33,484.25 434.67,482.59 437.00,480.92C439.33,479.25 441.67,477.56 444.00,475.87C446.33,474.18 448.67,472.47 451.00,470.75C453.33,469.03 455.67,467.31 458.00,465.58C460.33,463.85 462.67,462.12 465.00,460.38C467.33,458.64 469.67,456.90 472.00,455.17C474.33,453.44 476.67,451.71 479.00,449.99C481.33,448.27 483.67,446.55 486.00,444.84C488.33,443.13 490.67,441.44 493.00,439.75C495.33,438.06 497.67,436.38 500.00,434.70C502.33,433.02 504.67,431.35 507.00,429.69C509.33,428.03 511.67,426.38 514.00,424.72C516.33,423.07 518.67,421.41 521.00,419.76C523.33,418.11 525.67,416.46 528.00,414.81C530.33,413.16 532.67,411.50 535.00,409.85C537.33,408.20 539.67,406.55 542.00,404.89C544.33,403.23 546.67,401.57 549.00,399.90C551.33,398.23 553.67,396.56 556.00,394.88C558.33,393.20 560.67,391.51 563.00,389.81C565.33,388.11 567.67,386.41 570.00,384.69C572.33,382.97 574.67,381.25 577.00,379.51C579.33,377.77 581.67,376.02 584.00,374.26C586.33,372.50 588.67,370.72 591.00,368.95C593.33,367.18 595.67,365.40 598.00,363.63C600.33,361.86 602.67,360.09 605.00,358.33C607.33,356.57 609.67,354.81 612.00,353.07C614.33,351.33 616.67,349.61 619.00,347.91C621.33,346.21 623.67,344.52 626.00,342.87C628.33,341.22 630.67,339.59 633.00,337.99C635.33,336.39 637.67,334.82 640.00,333.30C642.33,331.78 644.67,330.30 647.00,328.87C649.33,327.44 651.67,326.06 654.00,324.74C656.33,323.42 658.67,322.15 661.00,320.95C663.33,319.75 665.67,318.62 668.00,317.53C670.33,316.44 672.67,315.41 675.00,314.41C677.33,313.41 679.67,312.45 682.00,311.52C684.33,310.58 686.67,309.69 689.00,308.80C691.33,307.91 693.67,307.05 696.00,306.19C698.33,305.33 700.67,304.48 703.00,303.62C705.33,302.76 707.67,301.89 710.00,301.04C712.33,300.19 714.67,299.33 717.00,298.51C719.33,297.69 721.67,296.87 724.00,296.10C726.33,295.33 728.67,294.57 731.00,293.87C733.33,293.17 735.67,292.50 738.00,291.90C740.33,291.30 742.67,290.74 745.00,290.26C747.33,289.78 749.67,289.36 752.00,289.03C754.33,288.70 756.67,288.43 759.00,288.27C761.33,288.11 763.67,288.03 766.00,288.06C768.33,288.09 770.67,288.22 773.00,288.47C775.33,288.72 777.67,289.08 780.00,289.57C782.33,290.06 784.67,290.67 787.00,291.43C789.33,292.19 791.67,293.09 794.00,294.13C796.33,295.17 798.67,296.35 801.00,297.67C803.33,298.99 805.67,300.45 808.00,302.04C810.33,303.63 812.67,305.35 815.00,307.21C817.33,309.06 819.67,311.06 822.00,313.17C824.33,315.28 826.67,317.53 829.00,319.89C831.33,322.25 833.67,324.74 836.00,327.35C838.33,329.96 840.67,332.70 843.00,335.54C845.33,338.38 847.67,341.35 850.00,344.42C852.33,347.50 854.67,350.69 857.00,353.99C859.33,357.29 861.67,360.70 864.00,364.20C866.33,367.70 868.67,371.31 871.00,374.97C873.33,378.63 875.67,382.38 878.00,386.14C880.33,389.90 882.67,393.73 885.00,397.54C887.33,401.36 889.67,405.21 892.00,409.03C894.33,412.85 896.67,416.68 899.00,420.45C901.33,424.22 903.67,427.98 906.00,431.67C908.33,435.36 910.67,439.02 913.00,442.60C915.33,446.19 917.67,449.72 920.00,453.18C922.33,456.64 924.67,460.05 927.00,463.37C929.33,466.69 931.67,469.94 934.00,473.09C936.33,476.24 938.67,479.31 941.00,482.27C943.33,485.23 945.67,488.12 948.00,490.87C950.33,493.62 952.67,496.27 955.00,498.79C957.33,501.31 959.67,503.72 962.00,505.99C964.33,508.26 966.67,510.41 969.00,512.40C971.33,514.39 974.83,517.02 976.00,517.94" stroke="#ff0028" stroke-width="4.8"/>
</g>
<rect x="491" y="518.7" width="426" height="140" fill="#fff"/>
<rect x="140.2" y="21.3" width="831.8" height="665.3000000000001" fill="none" stroke="#000" stroke-width="3.5"/>
<g style="font-family:&quot;Liberation Sans&quot;,Arial,Helvetica,sans-serif" font-weight="bold" font-size="28.8" fill="#000">
<line x1="502.9" x2="531.9" y1="536.9" y2="536.9" stroke="#002d7d" stroke-width="6.1"/>
<text transform="translate(535.2,548.0) scale(0.9618,1)" text-anchor="start">TC = <tspan dy="1.5">–</tspan><tspan dy="-1.5">270°C</tspan></text>
<line x1="716.8" x2="745.3" y1="536.9" y2="536.9" stroke="#5e85b5" stroke-width="5.6"/>
<text transform="translate(748.7,548.0) scale(0.9618,1)" text-anchor="start">TC = <tspan dy="1.5">–</tspan><tspan dy="-1.5">70°C</tspan></text>
<line x1="502.9" x2="531.9" y1="569.3" y2="569.3" stroke="#b299d2" stroke-width="4.2"/>
<text transform="translate(535.2,580.2) scale(0.9618,1)" text-anchor="start">TC = +280°C</text>
<line x1="716.8" x2="745.3" y1="569.3" y2="569.3" stroke="#16ab84" stroke-width="4.2"/>
<text transform="translate(748.7,580.2) scale(0.9618,1)" text-anchor="start">TC = +480°C</text>
<line x1="502.9" x2="531.9" y1="602.0" y2="602.0" stroke="#fec4a2" stroke-width="4.2"/>
<text transform="translate(535.2,612.6) scale(0.9618,1)" text-anchor="start">TC = +680°C</text>
<line x1="716.8" x2="745.3" y1="602.0" y2="602.0" stroke="#ff8733" stroke-width="4.2"/>
<text transform="translate(748.7,612.6) scale(0.9618,1)" text-anchor="start">TC = +880°C</text>
<line x1="502.9" x2="531.9" y1="634.2" y2="634.2" stroke="#ff0028" stroke-width="4.2"/>
<text transform="translate(535.2,644.9) scale(0.9618,1)" text-anchor="start">TC = +1080°C</text>
<text transform="translate(121.6,32.0) scale(0.9618,1)" text-anchor="end">0.25</text>
<text transform="translate(121.6,98.6) scale(0.9618,1)" text-anchor="end">0.20</text>
<text transform="translate(121.6,165.2) scale(0.9618,1)" text-anchor="end">0.15</text>
<text transform="translate(121.6,231.8) scale(0.9618,1)" text-anchor="end">0.10</text>
<text transform="translate(121.6,298.4) scale(0.9618,1)" text-anchor="end">0.05</text>
<text transform="translate(121.6,365.0) scale(0.9618,1)" text-anchor="end">0</text>
<text transform="translate(121.6,431.6) scale(0.9618,1)" text-anchor="end">–0.05</text>
<text transform="translate(121.6,498.2) scale(0.9618,1)" text-anchor="end">–0.10</text>
<text transform="translate(121.6,564.8) scale(0.9618,1)" text-anchor="end">–0.15</text>
<text transform="translate(121.6,631.4) scale(0.9618,1)" text-anchor="end">–0.20</text>
<text transform="translate(121.6,698.0) scale(0.9618,1)" text-anchor="end">–0.25</text>
<text transform="translate(154.2,725.1) scale(0.9618,1)" text-anchor="end">–20</text>
<text transform="translate(274.2,725.1) scale(0.9618,1)" text-anchor="middle">0</text>
<text transform="translate(406.5,725.1) scale(0.9618,1)" text-anchor="middle">20</text>
<text transform="translate(538.9,725.1) scale(0.9618,1)" text-anchor="middle">40</text>
<text transform="translate(671.2,725.1) scale(0.9618,1)" text-anchor="middle">60</text>
<text transform="translate(803.6,725.1) scale(0.9618,1)" text-anchor="middle">80</text>
<text transform="translate(936.0,725.1) scale(0.9618,1)" text-anchor="middle">100</text>
<text transform="translate(552.5,772.6) scale(0.9618,1)" text-anchor="middle">COLD JUNCTION TEMPERATURE (°C)</text>
<text transform="translate(34.0,356.0) rotate(-90) scale(0.9618,1)" text-anchor="middle">ERROR (°C)</text>
<text transform="translate(1007.9,777.8) rotate(-90) scale(0.9618,1)" text-anchor="start" font-weight="normal" font-size="19.3">09240-007</text>
</g>
</svg>
</body></html>
